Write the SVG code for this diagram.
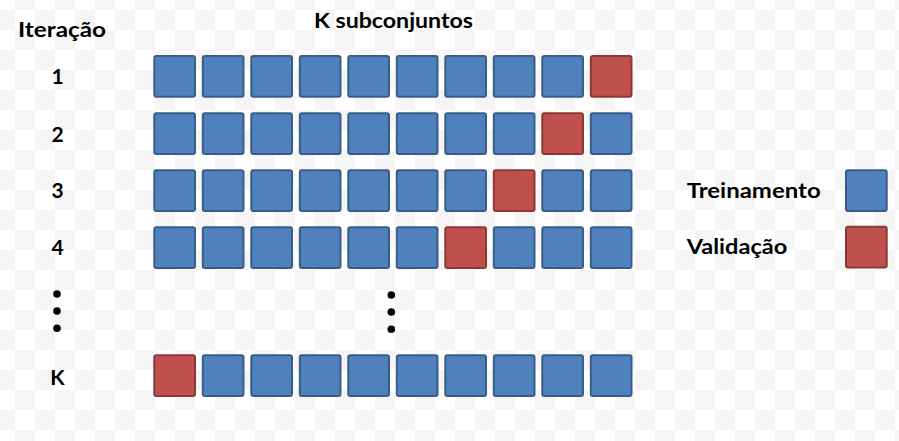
<svg xmlns="http://www.w3.org/2000/svg" width="899" height="441" viewBox="0 0 899 441">
<style>
.t{font-family:Lato,"Open Sans","Liberation Sans",sans-serif;font-weight:700;font-size:21px;fill:#000}
.n{text-anchor:middle}
.b{fill:#4f81bd;stroke:#385d8a;stroke-width:2}
.r{fill:#c0504d;stroke:#8c3836;stroke-width:2}
.d{fill:#000}
</style>
<defs>
<pattern id="chk" patternUnits="userSpaceOnUse" x="15" y="10" width="40" height="40">
<rect width="40" height="40" fill="#ffffff"/>
<rect x="20" y="0" width="20" height="20" fill="#f5f5f5"/>
<rect x="0" y="20" width="20" height="20" fill="#f5f5f5"/>
</pattern>
<rect id="sq" width="40.7" height="40.7" rx="2"/>
</defs>
<rect width="899" height="441" fill="url(#chk)"/>

<g id="headers">
<text class="t" x="18" y="36.5" textLength="88" lengthAdjust="spacingAndGlyphs">Iteração</text>
<text class="t" x="314" y="27.5" textLength="159" lengthAdjust="spacingAndGlyphs">K subconjuntos</text>
</g>

<g id="labels">
<text class="t n" x="57.5" y="84">1</text>
<text class="t n" x="57.5" y="141.5">2</text>
<text class="t n" x="57.5" y="197.5">3</text>
<text class="t n" x="57.5" y="255">4</text>
<text class="t n" x="57.5" y="384.5">K</text>
</g>

<g id="row1" transform="translate(154.3,56)">
<use href="#sq" class="b" x="0"/><use href="#sq" class="b" x="48.5"/><use href="#sq" class="b" x="97"/><use href="#sq" class="b" x="145.5"/><use href="#sq" class="b" x="194"/><use href="#sq" class="b" x="242.5"/><use href="#sq" class="b" x="291"/><use href="#sq" class="b" x="339.5"/><use href="#sq" class="b" x="388"/><use href="#sq" class="r" x="436.5"/>
</g>
<g id="row2" transform="translate(154.3,113.3)">
<use href="#sq" class="b" x="0"/><use href="#sq" class="b" x="48.5"/><use href="#sq" class="b" x="97"/><use href="#sq" class="b" x="145.5"/><use href="#sq" class="b" x="194"/><use href="#sq" class="b" x="242.5"/><use href="#sq" class="b" x="291"/><use href="#sq" class="b" x="339.5"/><use href="#sq" class="r" x="388"/><use href="#sq" class="b" x="436.5"/>
</g>
<g id="row3" transform="translate(154.3,170.3)">
<use href="#sq" class="b" x="0"/><use href="#sq" class="b" x="48.5"/><use href="#sq" class="b" x="97"/><use href="#sq" class="b" x="145.5"/><use href="#sq" class="b" x="194"/><use href="#sq" class="b" x="242.5"/><use href="#sq" class="b" x="291"/><use href="#sq" class="r" x="339.5"/><use href="#sq" class="b" x="388"/><use href="#sq" class="b" x="436.5"/>
</g>
<g id="row4" transform="translate(154.3,227.3)">
<use href="#sq" class="b" x="0"/><use href="#sq" class="b" x="48.5"/><use href="#sq" class="b" x="97"/><use href="#sq" class="b" x="145.5"/><use href="#sq" class="b" x="194"/><use href="#sq" class="b" x="242.5"/><use href="#sq" class="r" x="291"/><use href="#sq" class="b" x="339.5"/><use href="#sq" class="b" x="388"/><use href="#sq" class="b" x="436.5"/>
</g>
<g id="rowK" transform="translate(154.3,355.3)">
<use href="#sq" class="r" x="0"/><use href="#sq" class="b" x="48.5"/><use href="#sq" class="b" x="97"/><use href="#sq" class="b" x="145.5"/><use href="#sq" class="b" x="194"/><use href="#sq" class="b" x="242.5"/><use href="#sq" class="b" x="291"/><use href="#sq" class="b" x="339.5"/><use href="#sq" class="b" x="388"/><use href="#sq" class="b" x="436.5"/>
</g>

<g id="ellipsis-left">
<circle class="d" cx="57" cy="294" r="3.8"/><circle class="d" cx="57" cy="311" r="3.8"/><circle class="d" cx="57" cy="328.3" r="3.8"/>
</g>
<g id="ellipsis-mid">
<circle class="d" cx="391.3" cy="295" r="3.8"/><circle class="d" cx="391.3" cy="312" r="3.8"/><circle class="d" cx="391.3" cy="329.3" r="3.8"/>
</g>

<g id="legend-treinamento">
<text class="t" x="686.7" y="197.7" textLength="134" lengthAdjust="spacingAndGlyphs">Treinamento</text>
<use href="#sq" class="b" x="846" y="170.3"/>
</g>
<g id="legend-validacao">
<text class="t" x="686.7" y="254.3" textLength="100.6" lengthAdjust="spacingAndGlyphs">Validação</text>
<use href="#sq" class="r" x="846" y="226.7"/>
</g>
<g id="connectors"/>
</svg>
